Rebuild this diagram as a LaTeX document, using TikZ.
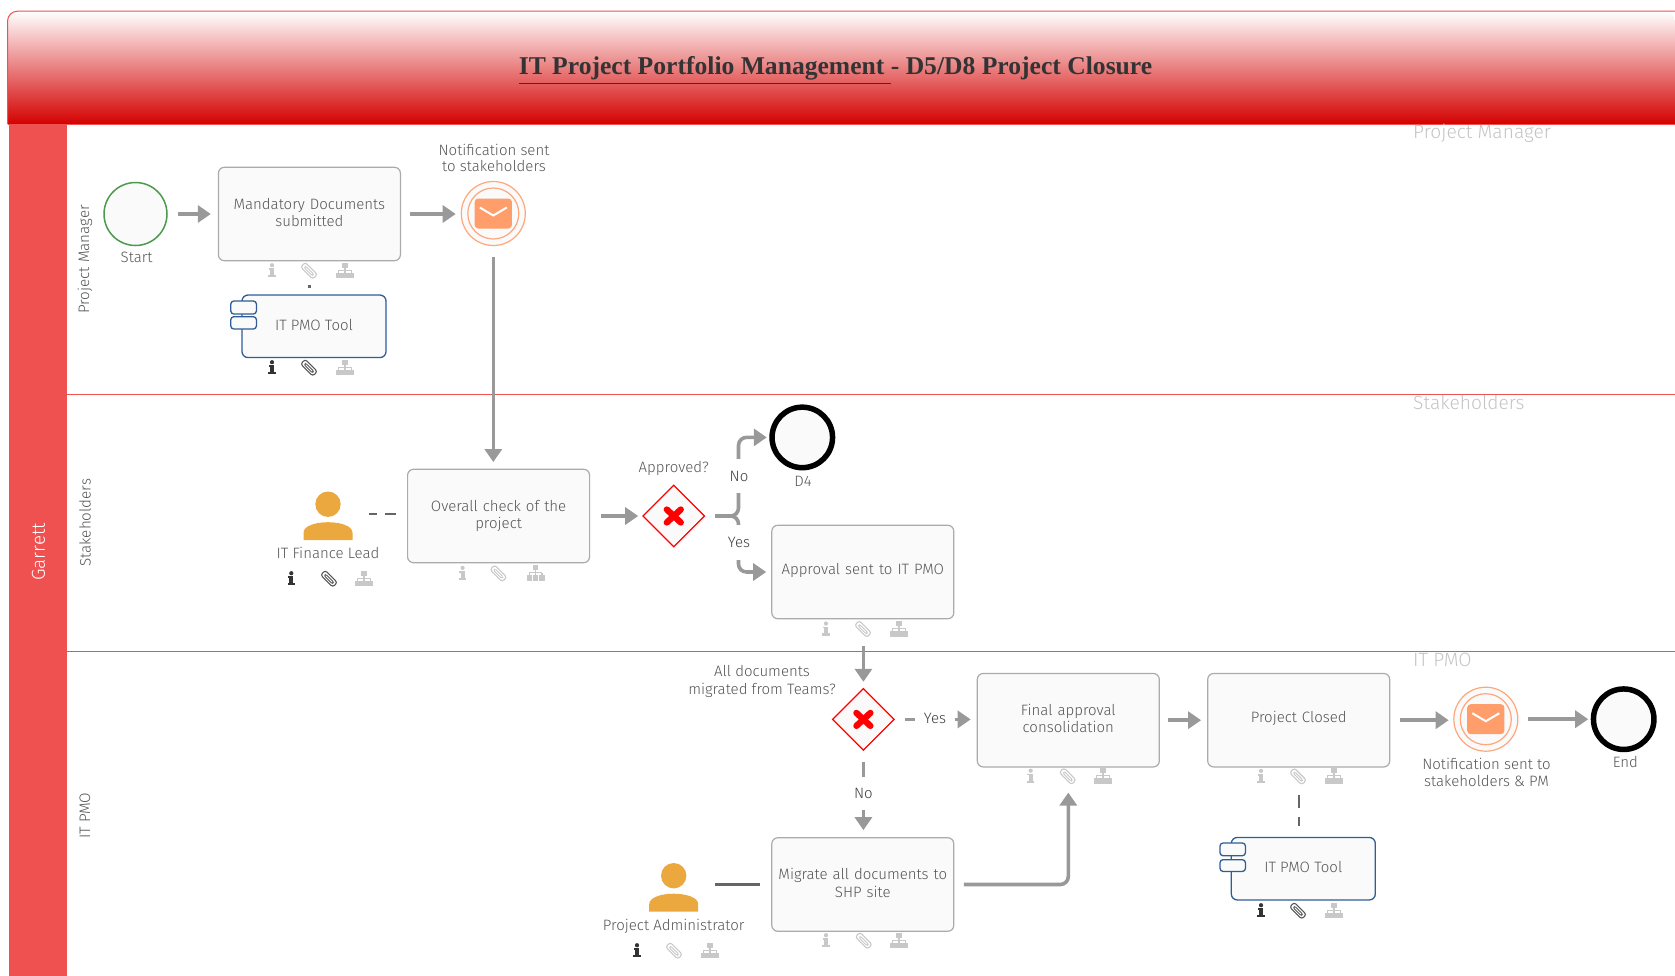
\documentclass[tikz,border=0pt]{standalone}
\usepackage{fontspec}
\setmainfont{Fira Sans Light}
\newfontfamily\titlefont{Liberation Serif}
\usetikzlibrary{arrows.meta,shapes.geometric,calc}
\definecolor{lanered}{HTML}{EF5050}
\definecolor{hdrred}{HTML}{D40000}
\definecolor{flowgray}{HTML}{999999}
\definecolor{txtgray}{HTML}{555555}
\definecolor{conddark}{HTML}{3F3F3F}
\definecolor{boxfill}{HTML}{FAFAFA}
\definecolor{boxline}{HTML}{ABABAB}
\definecolor{toolblue}{HTML}{2F5D96}
\definecolor{orangeline}{HTML}{FFA77A}
\definecolor{orangefill}{HTML}{FF9E6B}
\definecolor{personfill}{HTML}{EBA83F}
\definecolor{iconlight}{HTML}{C8C8C8}
\definecolor{icondark}{HTML}{333333}
\definecolor{assoc}{HTML}{666666}
\definecolor{lanegray}{HTML}{C4C4C4}
\definecolor{startgreen}{HTML}{4C9A4C}
\tikzset{
  flow/.style={draw=flowgray,line width=3.6pt,-{Triangle[length=13pt,width=17pt]}},
  assocline/.style={draw=assoc,line width=2.2pt},
  task/.style={draw=boxline,fill=boxfill,rounded corners=6pt,line width=1.2pt,minimum width=182pt,minimum height=93.5pt,inner sep=2pt,text width=176pt,align=center,text=txtgray,font=\fontsize{15}{17.3}\selectfont},
  tool/.style={draw=toolblue,fill=boxfill,rounded corners=6pt,line width=1.3pt,minimum width=144pt,minimum height=62.5pt,inner sep=0pt,text=txtgray,text depth=3pt,font=\fontsize{15}{17.3}\selectfont},
  toolbit/.style={draw=toolblue,fill=boxfill,rounded corners=3pt,line width=1.3pt},
  lbl/.style={text=txtgray,align=center,inner sep=0pt,font=\fontsize{15}{17.5}\selectfont},
  cond/.style={lbl,fill=white,text=conddark},
  lanetitle/.style={text=txtgray,rotate=90,inner sep=0pt,font=\fontsize{15.2}{18}\selectfont},
  ghost/.style={text=lanegray,anchor=west,inner sep=0pt,font=\fontsize{19.2}{22}\selectfont},
  startev/.style={circle,draw=startgreen,fill=boxfill,line width=1.5pt,minimum size=63pt,inner sep=0pt},
  endev/.style={circle,draw=black,fill=boxfill,line width=5.5pt,minimum size=60.5pt,inner sep=0pt},
  msgev/.style={circle,draw=orangeline,fill=boxfill,line width=1.2pt,minimum size=64pt,inner sep=0pt},
  gate/.style={diamond,aspect=1,draw=red,fill=boxfill,line width=1.2pt,minimum width=62pt,minimum height=62pt,inner sep=0pt}
}
\newcommand\lifttext{\vspace{3pt}}
\newcommand\iconrow[7]{%
  \begin{scope}[shift={(#1,#4)}]
    \fill[#5] (0,-5.5) circle (2.1);
    \fill[#5] (-3.4,-2.4) rectangle (1.9,-0.8);
    \fill[#5] (-1.9,-2.4) rectangle (1.9,5);
    \fill[#5] (-3.6,4.4) rectangle (3.6,6.6);
  \end{scope}
  \begin{scope}[shift={(#2,#4)},rotate=-45]
    \draw[#6,line width=1.1pt,rounded corners=2.6pt] (-8.6,-3.3) rectangle (8.6,3.3);
    \draw[#6,line width=0.9pt,rounded corners=1.2pt] (-5.5,-0.9) rectangle (5.8,1.2);
  \end{scope}
  \begin{scope}[shift={(#3,#4)}]
    \fill[#7] (-2.6,-8) rectangle (2.6,-3.2);
    \fill[#7] (-0.7,-3.2) rectangle (0.7,2);
    \fill[#7] (-6.6,-1.1) rectangle (6.6,-0.1);
    \fill[#7] (-7,-0.1) rectangle (-5.8,2);
    \fill[#7] (5.8,-0.1) rectangle (7,2);
    \fill[#7] (-9,2) rectangle (-3.2,7.5);
    \fill[#7] (-2.7,2) rectangle (2.7,7.5);
    \fill[#7] (3.2,2) rectangle (9,7.5);
  \end{scope}
}
\newcommand\envelope[1]{%
  \fill[orangefill,rounded corners=3.5pt] ($(#1.center)+(-18.6,-15)$) rectangle ($(#1.center)+(18.6,15)$);
  \draw[white,line width=2pt] ($(#1.center)+(-13.5,-6)$) -- ($(#1.center)+(0,2)$) -- ($(#1.center)+(13.5,-6)$);
  \draw[orangeline,line width=1.2pt] (#1.center) circle (25.5);
}
\newcommand\redcross[1]{%
  \draw[red,line width=6.3pt,line cap=round] ($(#1.center)+(-7,-6.5)$) -- ($(#1.center)+(7,6.5)$);
  \draw[red,line width=6.3pt,line cap=round] ($(#1.center)+(-7,6.5)$) -- ($(#1.center)+(7,-6.5)$);
}
\newcommand\person[2]{%
  \fill[personfill] (#1,#2-14.5) ellipse (12.7 and 12.7);
  \fill[personfill] (#1-24.5,#2+21.5) -- (#1-24.5,#2+14) .. controls (#1-24.5,#2+7) and (#1-12,#2+3.5) .. (#1,#2+3.5) .. controls (#1+12,#2+3.5) and (#1+24.5,#2+7) .. (#1+24.5,#2+14) -- (#1+24.5,#2+21.5) -- cycle;
}
\begin{document}
\begin{tikzpicture}[x=1pt,y=-1pt]
\useasboundingbox (0,-0.7) rectangle (1675,974.3);
% header
\shade[top color=white,bottom color=hdrred] (7.5,123.5) {[rounded corners=10pt] -- (7.5,10.5) -- (1675,10.5)} -- (1675,123.5) -- cycle;
\draw[lanered,line width=1pt] (7.5,123.5) {[rounded corners=10pt] -- (7.5,10.5) -- (1675,10.5)};
\draw[lanered,line width=.8pt] (7.5,123.8) -- (1675,123.8);
\node[inner sep=0pt,text=icondark,font=\titlefont\bfseries\fontsize{25.6}{30}\selectfont] (title) at (835.5,67.5) {IT Project Portfolio Management - D5/D8 Project Closure};
\draw[icondark,line width=1pt] (519.3,82.7) -- (890.7,82.7);
% pool and lanes
\fill[lanered] (8.5,124) rectangle (67,975);
\draw[lanered,line width=1pt] (67,394) -- (1675,394);
\draw[lanered,line width=1pt] (67,650.5) -- (1675,650.5);
\node[rotate=90,text=white,inner sep=0pt,font=\fontsize{18.7}{22}\selectfont] (pool) at (38.4,551) {Garrett};
\node[lanetitle] (lane1) at (85,258.7) {Project Manager};
\node[lanetitle] (lane2) at (85,522) {Stakeholders};
\node[lanetitle] (lane3) at (85,815) {IT PMO};
\node[ghost] (g1) at (1413,132.4) {Project Manager};
\node[ghost] (g2) at (1413,401.6) {Stakeholders};
\node[ghost] (g3) at (1413,659) {IT PMO};
% lane 1
\node[startev] (start) at (135.5,213.3) {};
\node[lbl] (lstart) at (136.6,256.7) {Start};
\node[task] (t1) at (309.4,213.3) {Mandatory Documents\\submitted\lifttext};
\iconrow{272}{309}{345}{270}{iconlight}{iconlight}{iconlight}
\node[msgev] (m1) at (493.3,212.8) {};
\envelope{m1}
\node[lbl] (lm1) at (494,157) {Notification sent\\[-1pt]to stakeholders};
\node[tool] (k1) at (314,325.6) {IT PMO Tool};
\draw[toolbit] (230.8,300.3) rectangle (256.4,313.3);
\draw[toolbit] (230.8,316) rectangle (256.4,328.3);
\iconrow{272}{309}{345}{367}{icondark}{txtgray}{iconlight}
\draw[assocline,shorten <=24pt,shorten >=6pt] (t1.south) -- (t1.south |- k1.north);
% lane 2
\person{328}{518}
\coordinate (p1) at (352.4,513.3);
\node[lbl] (lp1) at (328,552.7) {IT Finance Lead};
\iconrow{291.3}{329}{364}{578}{icondark}{txtgray}{iconlight}
\node[task] (t2) at (498.6,515.3) {Overall check of the\\project};
\iconrow{462.6}{498.4}{535.6}{572.7}{iconlight}{iconlight}{iconlight}
\node[gate] (gw1) at (673.8,515.3) {};
\redcross{gw1}
\node[lbl] (lgw1) at (673.8,467.7) {Approved?};
\node[endev] (d4) at (802.3,436.7) {};
\node[lbl] (ld4) at (803,480.7) {D4};
\node[task] (t3) at (862.8,571.3) {Approval sent to IT PMO\lifttext};
\iconrow{826}{863}{899}{628.3}{iconlight}{iconlight}{iconlight}
% lane 3
\node[gate] (gw2) at (863.4,718.7) {};
\redcross{gw2}
\node[lbl] (lgw2) at (762,680.7) {All documents\\migrated from Teams?};
\node[task] (t4) at (1068.3,719.5) {Final approval\\consolidation\lifttext};
\iconrow{1030.7}{1067.7}{1103}{775.5}{iconlight}{iconlight}{iconlight}
\node[task] (t5) at (1298.7,719.5) {Project Closed\lifttext};
\iconrow{1261}{1298}{1334}{775.7}{iconlight}{iconlight}{iconlight}
\node[msgev] (m2) at (1485.8,718.5) {};
\envelope{m2}
\node[lbl] (lm2) at (1486.5,771.7) {Notification sent to\\stakeholders \& PM};
\node[endev] (e1) at (1623.7,718.5) {};
\node[lbl] (le1) at (1625.4,761.3) {End};
\node[task] (t6) at (862.8,883.8) {Migrate all documents to\\SHP site\lifttext};
\iconrow{826}{863.7}{899}{940}{iconlight}{iconlight}{iconlight}
\person{673.7}{889.5}
\coordinate (p2) at (698.3,883.8);
\node[lbl] (lp2) at (673.7,925.3) {Project Administrator};
\iconrow{637}{674}{710}{950}{icondark}{iconlight}{iconlight}
\node[tool] (k2) at (1303.3,868) {IT PMO Tool};
\draw[toolbit] (1220,842.3) rectangle (1245.4,855);
\draw[toolbit] (1220,859) rectangle (1245.4,870.7);
\iconrow{1261}{1298}{1334}{910}{icondark}{txtgray}{iconlight}
% connectors
\draw[flow,shorten <=10.5pt,shorten >=7pt] (start.east) -- (start.east -| t1.west);
\draw[flow,shorten <=9pt,shorten >=5pt] (t1.east) -- (t1.east -| m1.west);
\draw[flow,shorten <=10.7pt,shorten >=6.6pt] (m1.south) -- (m1.south |- t2.north);
\draw[assocline,dash pattern=on 7.3pt off 8pt on 12.5pt off 8pt,shorten <=17pt,shorten >=11pt] (p1) -- (p1 -| t2.west);
\draw[flow,shorten <=11pt,shorten >=4pt] (t2.east) -- (t2.east -| gw1.west);
\coordinate (bx) at (738.5,515.3);
\draw[flow,rounded corners=8pt,shorten <=9.8pt,shorten >=2.5pt] (gw1.east) -- (bx) |- (d4.west);
\draw[flow,rounded corners=8pt,shorten <=9.8pt,shorten >=5pt] (gw1.east) -- (bx) |- (t3.west);
\node[cond,minimum width=34pt,minimum height=34pt] (no1) at (739,475.5) {No};
\node[cond,minimum width=34pt,minimum height=35pt] (yes1) at (739,542) {Yes};
\draw[flow,shorten <=27pt,shorten >=6pt] (gw2.north |- t3.south) -- (gw2.north);
\draw[flow,shorten <=10pt,shorten >=6pt] (gw2.east) -- (gw2.east -| t4.west);
\node[cond,minimum width=40pt,minimum height=22pt] (yes2) at (935,717.5) {Yes};
\draw[flow,shorten <=11pt,shorten >=7pt] (gw2.south) -- (gw2.south |- t6.north);
\node[cond,minimum width=34pt,minimum height=33pt] (no2) at (863.4,792.5) {No};
\draw[assocline,shorten <=17pt,shorten >=11pt] (p2) -- (p2 -| t6.west);
\draw[flow,rounded corners=8pt,shorten <=9.5pt,shorten >=25pt] (t6.east) -| (t4.south);
\draw[flow,shorten <=8.5pt,shorten >=6pt] (t4.east) -- (t4.east -| t5.west);
\draw[flow,shorten <=9.5pt,shorten >=4.5pt] (t5.east) -- (t5.east -| m2.west);
\draw[flow,shorten <=9.5pt,shorten >=2.5pt] (m2.east) -- (m2.east -| e1.west);
\draw[assocline,dash pattern=on 13.4pt off 9pt on 9pt off 9pt,shorten <=27pt,shorten >=11pt] (t5.south) -- (t5.south |- k2.north);
\end{tikzpicture}
\end{document}
